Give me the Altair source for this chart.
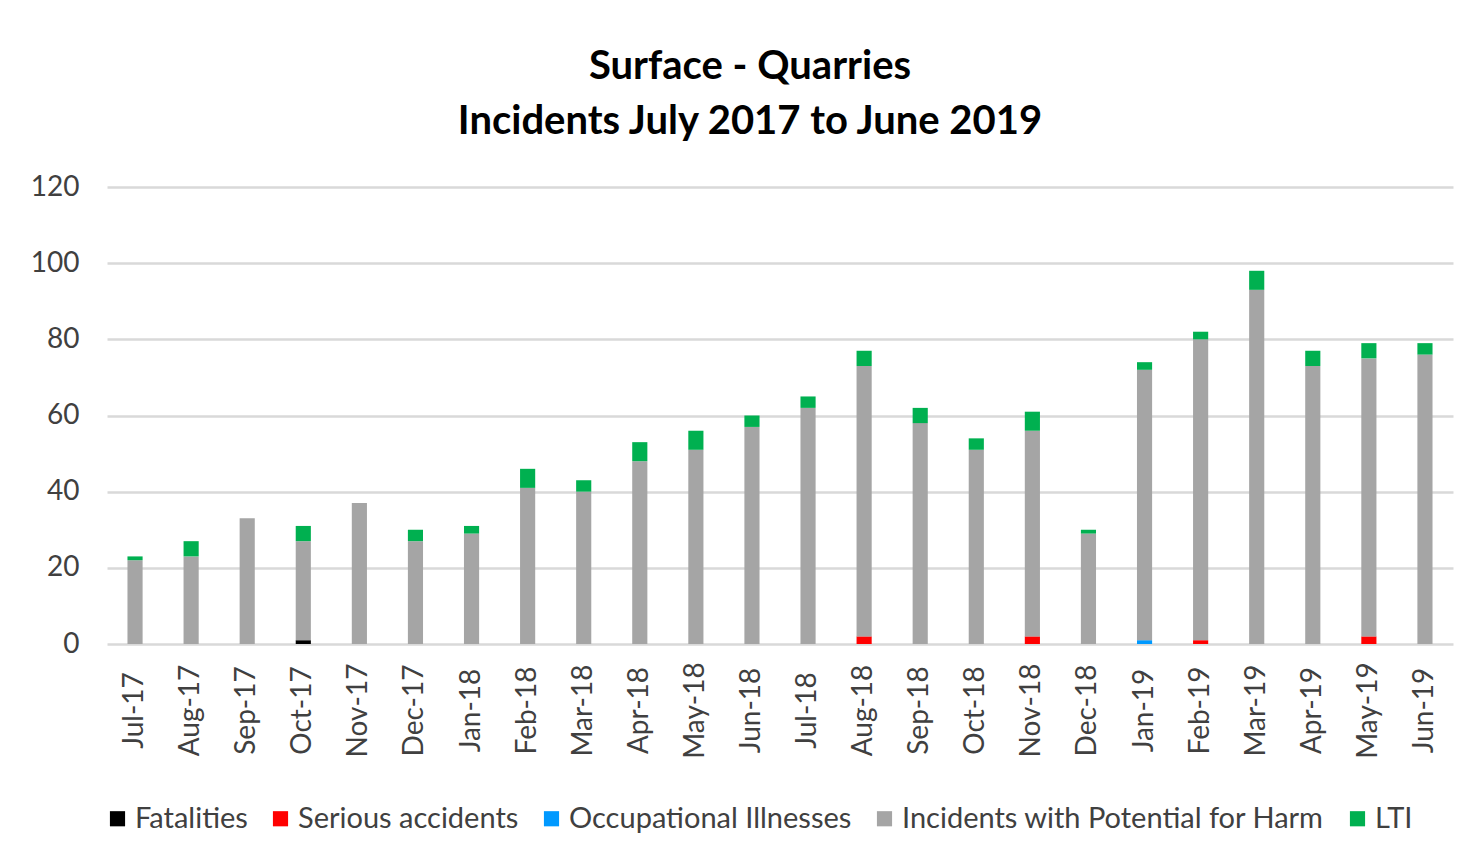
import altair as alt
import pandas as pd

months = ["Jul-17", "Aug-17", "Sep-17", "Oct-17", "Nov-17", "Dec-17", "Jan-18", "Feb-18",
          "Mar-18", "Apr-18", "May-18", "Jun-18", "Jul-18", "Aug-18", "Sep-18", "Oct-18",
          "Nov-18", "Dec-18", "Jan-19", "Feb-19", "Mar-19", "Apr-19", "May-19", "Jun-19"]
fatalities = [0, 0, 0, 1, 0, 0, 0, 0, 0, 0, 0, 0, 0, 0, 0, 0, 0, 0, 0, 0, 0, 0, 0, 0]
serious = [0, 0, 0, 0, 0, 0, 0, 0, 0, 0, 0, 0, 0, 2, 0, 0, 2, 0, 0, 1, 0, 0, 2, 0]
occupational = [0, 0, 0, 0, 0, 0, 0, 0, 0, 0, 0, 0, 0, 0, 0, 0, 0, 0, 1, 0, 0, 0, 0, 0]
potential = [22, 23, 33, 26, 37, 27, 29, 41, 40, 48, 51, 57, 62, 71, 58, 51, 54, 29, 71, 79, 93, 73, 73, 76]
lti = [1, 4, 0, 4, 0, 3, 2, 5, 3, 5, 5, 3, 3, 4, 4, 3, 5, 1, 2, 2, 5, 4, 4, 3]

categories = ["Fatalities", "Serious accidents", "Occupational Illnesses",
              "Incidents with Potential for Harm", "LTI"]
colors = ["#000000", "#ff0000", "#0099ff", "#a5a5a5", "#00b050"]
series = [fatalities, serious, occupational, potential, lti]

rows = []
for ci, (cat, vals) in enumerate(zip(categories, series)):
    for m, v in zip(months, vals):
        rows.append({"Month": m, "Category": cat, "Value": v, "ord": ci})
df = pd.DataFrame(rows)

FONT = "Lato"

chart = alt.Chart(df).mark_bar().encode(
    x=alt.X("Month:N", sort=months,
            scale=alt.Scale(paddingInner=0.73, paddingOuter=0.365),
            axis=alt.Axis(title=None, labelAngle=-90, labelAlign="center", labelBaseline="middle",
                          labelPadding=66, ticks=False, domain=False, labelFontSize=28,
                          labelColor="#404040", labelFont=FONT)),
    y=alt.Y("Value:Q", stack="zero",
            scale=alt.Scale(domain=[0, 120]),
            axis=alt.Axis(title=None, values=[0, 20, 40, 60, 80, 100, 120], ticks=False,
                          domain=False, labelPadding=28, labelFontSize=28, labelColor="#404040",
                          labelFont=FONT, gridColor="#d9d9d9", gridWidth=2.5)),
    color=alt.Color("Category:N",
                    scale=alt.Scale(domain=categories, range=colors),
                    legend=alt.Legend(title=None, orient="none", legendX=-4, legendY=617,
                                      direction="horizontal", symbolType="square",
                                      symbolSize=230, symbolStrokeWidth=0, labelFontSize=29,
                                      labelFont=FONT, labelColor="#404040", columnPadding=18,
                                      labelOffset=3, labelLimit=600)),
    order=alt.Order("ord:Q", sort="ascending"),
).properties(
    width=1346,
    height=457,
    background="white",
    title=alt.TitleParams(["Surface - Quarries", "Incidents July 2017 to June 2019"],
                          fontSize=40, font=FONT, fontWeight="bold", color="#000000",
                          lineHeight=55, offset=31, anchor="middle", dx=-30),
    padding={"left": 99, "top": 179, "right": 9, "bottom": 200},
    autosize=alt.AutoSizeParams(type="none"),
).configure_view(stroke=None)

chart.save("out.html", embed_options={"renderer": "svg", "actions": False})
